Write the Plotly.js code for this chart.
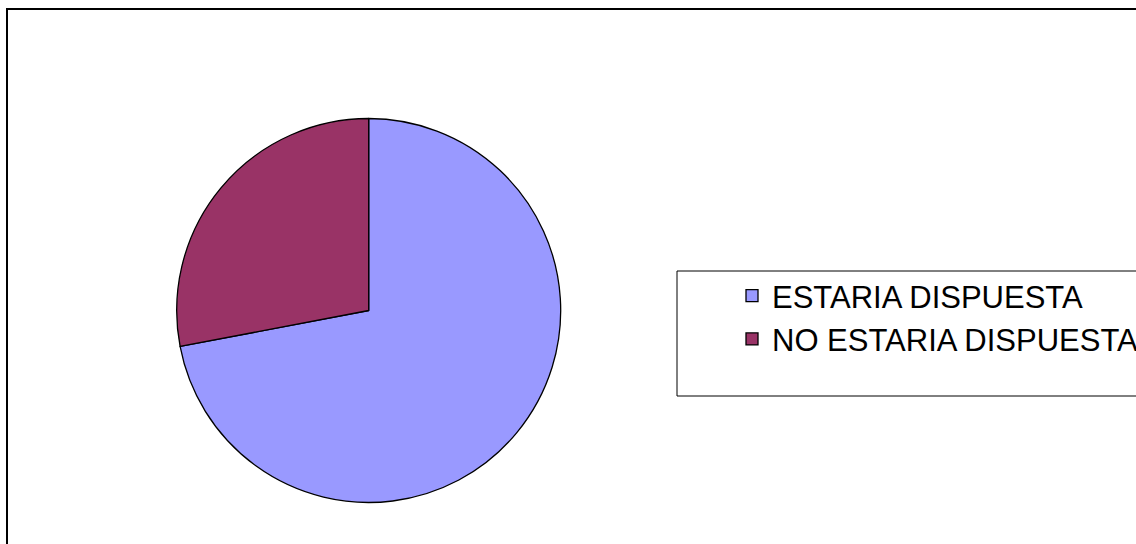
<!DOCTYPE html>
<html>
<head>
<meta charset="utf-8">
<script src="https://cdn.plot.ly/plotly-3.0.1.min.js"></script>
<style>html,body{margin:0;padding:0;background:#fff;}#chart{width:1136px;height:544px;}</style>
</head>
<body>
<div id="chart"></div>
<script>
const categories = ["ESTARIA DISPUESTA", "NO ESTARIA DISPUESTA"];
const values = [72, 28];
const colors = ["#9999FF", "#993366"];

const W = 1136, H = 544;
const px = x => x / W;
const py = y => 1 - y / H;

const trace = {
  type: "pie",
  labels: categories,
  values: values,
  sort: false,
  direction: "clockwise",
  rotation: 0,
  marker: { colors: colors, line: { color: "#000000", width: 1.3 } },
  textinfo: "none",
  hoverinfo: "label+percent",
  domain: { x: [px(176.5), px(560.9)], y: [py(502.5), py(118.5)] }
};

const layout = {
  width: W, height: H,
  margin: { l: 0, r: 0, t: 0, b: 0, autoexpand: false },
  paper_bgcolor: "#ffffff",
  plot_bgcolor: "#ffffff",
  showlegend: true,
  legend: {
    x: px(732), y: py(269), xanchor: "left", yanchor: "top",
    bgcolor: "rgba(0,0,0,0)", borderwidth: 0,
    font: { family: "Liberation Sans, Arial, sans-serif", size: 31, color: "#000000" },
    tracegroupgap: 0
  },
  shapes: [
    { type: "rect", xref: "paper", yref: "paper", x0: px(7), x1: px(1150), y0: py(9), y1: py(560),
      line: { color: "#000000", width: 2 }, fillcolor: "rgba(0,0,0,0)", layer: "below" },
    { type: "rect", xref: "paper", yref: "paper", x0: px(677), x1: px(1150), y0: py(271), y1: py(396),
      line: { color: "#000000", width: 1 }, fillcolor: "rgba(0,0,0,0)", layer: "below" }
  ]
};

Plotly.newPlot("chart", [trace], layout, { displayModeBar: false, staticPlot: true });
</script>
</body>
</html>
